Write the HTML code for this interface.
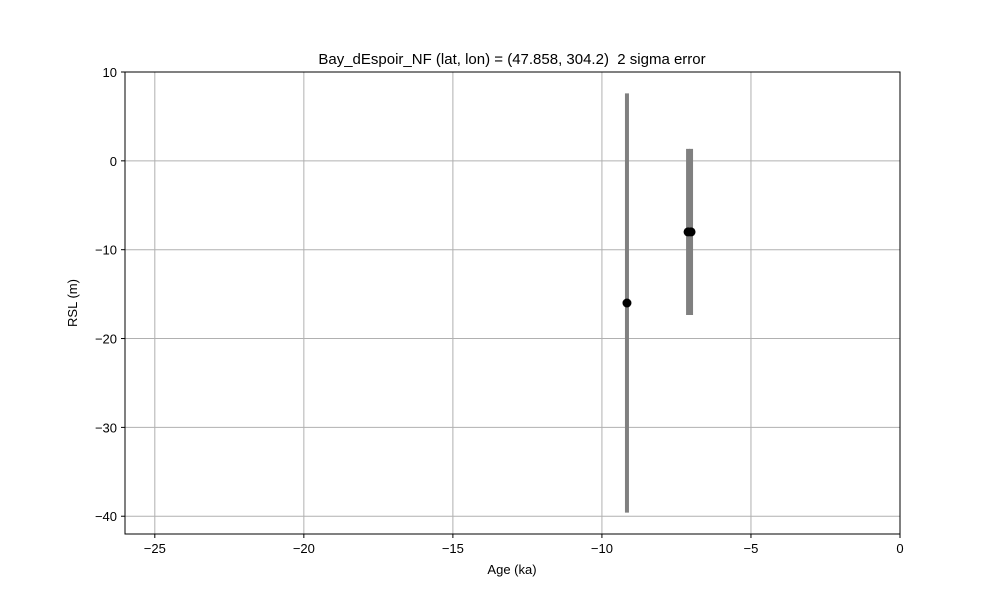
<!DOCTYPE html>
<html><head><style>
body{margin:0;background:#fff;font-family:"Liberation Sans","DejaVu Sans",sans-serif;}
</style></head><body>
<svg width="1000" height="600" xmlns="http://www.w3.org/2000/svg">
<rect width="1000" height="600" fill="#fff"/>
<g id="grid"></g>
<g id="marks"></g>
<rect x="125" y="72" width="775" height="462" fill="none" stroke="#000" stroke-width="1"/>
<g id="ticks" font-size="13" fill="#000"></g>
<text x="512" y="64" text-anchor="middle" font-size="15">Bay_dEspoir_NF (lat, lon) = (47.858, 304.2) &#160;2 sigma error</text>
<text x="512" y="574" text-anchor="middle" font-size="13">Age (ka)</text>
<text x="77" y="303" text-anchor="middle" font-size="13" transform="rotate(-90 77 303)">RSL (m)</text>
</svg>
<script>
const ages=[-9.16,-7.11,-7.01];
const rsl=[-16,-8,-8];
const errs=[23.6,9.35,9.35];
const xTicks=[-25,-20,-15,-10,-5,0];
const yTicks=[10,0,-10,-20,-30,-40];
const L=125,R=900,T=72,B=534,xmin=-26,xmax=0,ymin=-42,ymax=10;
const sx=v=>L+(v-xmin)/(xmax-xmin)*(R-L);
const sy=v=>B-(v-ymin)/(ymax-ymin)*(B-T);
const NS="http://www.w3.org/2000/svg";
const mk=(t,a,p)=>{const e=document.createElementNS(NS,t);for(const k in a)e.setAttribute(k,a[k]);p.appendChild(e);return e;};
const g=document.getElementById('grid'),tk=document.getElementById('ticks'),m=document.getElementById('marks');
xTicks.forEach(v=>{const x=sx(v);
const l=mk('line',{x1:x,x2:x,y1:T,y2:B,stroke:'#b0b0b0','stroke-width':1},g);


mk('line',{x1:x,x2:x,y1:B,y2:B+4,stroke:'#000'},tk);
const t=mk('text',{x:x,y:B+19,'text-anchor':'middle'},tk);t.textContent=v<0?'\u2212'+(-v):v;

});
yTicks.forEach(v=>{const y=sy(v);
const l=mk('line',{x1:L,x2:R,y1:y,y2:y,stroke:'#b0b0b0','stroke-width':1},g);


mk('line',{x1:L-4,x2:L,y1:y,y2:y,stroke:'#000'},tk);
const t=mk('text',{x:L-8,y:y+5,'text-anchor':'end'},tk);t.textContent=v<0?'\u2212'+(-v):v;

});
ages.forEach((a,i)=>{const x=sx(a);
const e=mk('line',{x1:x,x2:x,y1:sy(rsl[i]+errs[i]),y2:sy(rsl[i]-errs[i]),stroke:'#808080','stroke-width':4},m);

});
ages.forEach((a,i)=>{
const c=mk('circle',{cx:sx(a),cy:sy(rsl[i]),r:4.5,fill:'#000'},m);

});
</script>
</body></html>
